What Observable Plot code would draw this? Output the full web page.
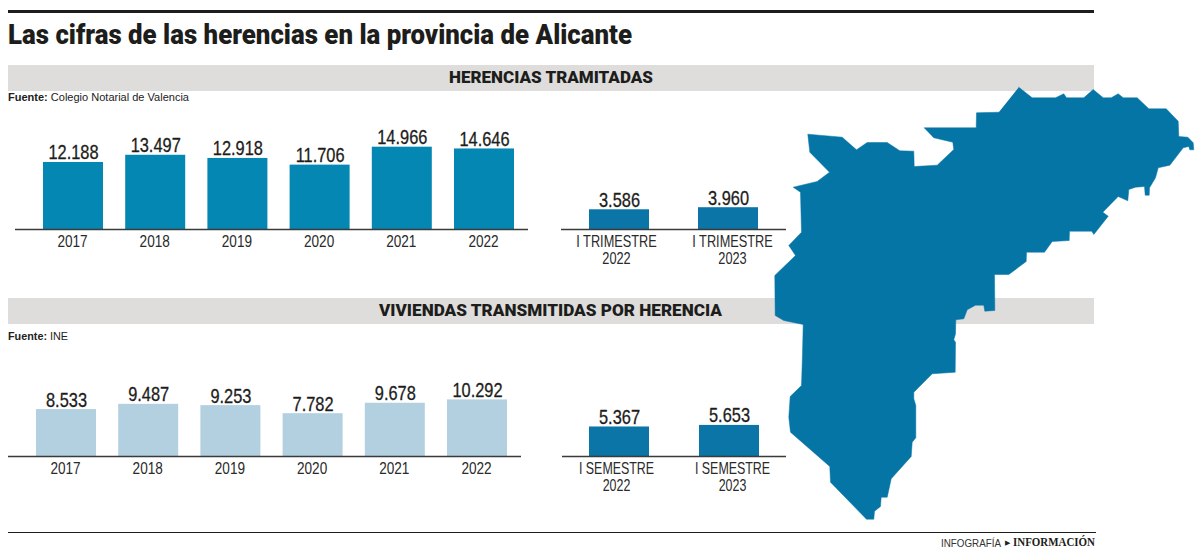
<!DOCTYPE html>
<html><head><meta charset="utf-8">
<script src="https://cdn.jsdelivr.net/npm/d3@7"></script>
<script src="https://cdn.jsdelivr.net/npm/@observablehq/plot@0.6"></script>
<style>
html,body{margin:0;padding:0;background:#fff}
#page{position:relative;width:1200px;height:559px;overflow:hidden;color:#1d1d1b;font-family:"Liberation Sans",sans-serif}
#page>*{position:absolute}
.rule{background:#1d1d1b}
.band{left:8px;width:1086px;height:26px;background:#dedddb}
.head{font:900 17px/26px "Roboto",sans-serif;white-space:nowrap;transform-origin:left center}
.src{left:8px;font:400 11.5px/12px "Liberation Sans",sans-serif;color:#222;white-space:nowrap;transform-origin:left center}
.src b{font-weight:700}
#title{left:8px;top:18px;font:900 28px/34px "Roboto",sans-serif;white-space:nowrap;transform-origin:left center}
.foot{white-space:nowrap;transform-origin:left center}
svg{overflow:visible;background:transparent!important}
</style></head><body>
<div id="page">
  <div class="rule" style="left:8px;top:10px;width:1086px;height:3px"></div>
  <div id="title" data-w="624">Las cifras de las herencias en la provincia de Alicante</div>
  <div class="band" style="top:65px"></div>
  <div class="band" style="top:298px"></div>
  <div id="mapHolder" style="left:0;top:0"></div>
  <div class="head" data-w="204" style="left:449px;top:64px">HERENCIAS TRAMITADAS</div>
  <div class="head" data-w="343" style="left:379px;top:297px">VIVIENDAS TRANSMITIDAS POR HERENCIA</div>
  <div class="src" data-w="181" style="top:91px"><b>Fuente:</b> Colegio Notarial de Valencia</div>
  <div class="src" data-w="60" style="top:330px"><b>Fuente:</b> INE</div>
  <div class="rule" style="left:8px;top:532px;width:1088px;height:1px"></div>
  <div class="foot" data-w="60" style="left:941px;top:536px;font:400 11.5px/14px 'Liberation Sans',sans-serif;color:#333">INFOGRAFÍA</div>
  <div class="foot" style="left:1005px;top:536px;font:400 7px/14px 'DejaVu Sans',sans-serif;color:#222">▶</div>
  <div class="foot" data-w="82" style="left:1013px;top:535px;font:700 13px/14px 'Liberation Serif',serif;color:#1d1d1b">INFORMACIÓN</div>
</div>
<script>
const years = ["2017","2018","2019","2020","2021","2022"];
const herencias = [12188,13497,12918,11706,14966,14646];
const viviendas = [8533,9487,9253,7782,9678,10292];
const trimestres = ["I TRIMESTRE 2022","I TRIMESTRE 2023"];
const herenciasTrim = [3586,3960];
const semestres = ["I SEMESTRE 2022","I SEMESTRE 2023"];
const viviendasSem = [5367,5653];
const provinceOutline = [
[1018.3,86.7],[1031.7,97.3],[1055,97.3],[1063.3,93.3],[1066,97.3],[1083.3,97.3],[1092.7,89],[1102.7,97.3],[1110.7,97.3],[1117.7,93.3],[1122.7,97.3],[1136.7,97.3],[1148.3,108.3],[1165.7,108.3],[1177.7,120.7],[1178.3,136],[1187.3,136.7],[1192.7,142.3],[1193.3,149.3],[1189.3,149.3],[1188.3,146],[1182.7,147.3],[1169.3,164.7],[1157.7,167.3],[1155,177.3],[1149,187.3],[1148.7,194.7],[1144.7,194.7],[1144,186],[1135,186.7],[1128.3,189],[1127.3,200.3],[1117.7,196],[1102.3,211.7],[1107.7,215.7],[1093.3,234],[1091.3,230.7],[1069,230.7],[1068.7,240],[1051.7,241],[1044,251.7],[1026,251.7],[1025.7,261],[1008.3,274],[994,274],
[994.3,310],[984.3,310.7],[983.3,304.7],[975,304.7],[966.7,309.3],[963.3,318.3],[955.3,319.3],[955,333.3],[953.3,339.3],[955,341.7],[954.7,371.7],[931.7,373.3],[913.3,391.7],[913.3,398.3],[915.3,405],[915.3,437.3],[911.7,441.7],[910.7,456],[890.7,478.3],[886.7,496.7],[880.7,496.7],[880,506],[874,510.7],[873.3,518.7],[866,518.7],[830,481.7],[829.3,466],[790,431.7],[788.3,416.7],[789.7,396],[801,385],[802,353.3],[802.7,324],[783.3,320],[774.7,315],
[774.3,275],[795,255],[788.3,245],[801,231.7],[800,191.7],[792.7,186.7],[816.7,181],[829,171.7],[809.3,151.7],[807.3,133.7],[841.7,136.7],[856,149.3],[866.7,142],[886.7,142],[899.3,150.3],[913.3,150.7],[913.7,166],[936.7,164.7],[953.3,149],[952.3,141.7],[933.3,137.3],[923.7,127.3],[975.7,127.3],[976,112.3],[998.3,111.7]
];

const page = document.getElementById("page");
const fmt = v => { const s = String(v); return s.length > 3 ? s.slice(0,-3) + "." + s.slice(-3) : s; };
const FONT = '"Liberation Sans",sans-serif';

function panel({cats, vals, fill, ruleFrom, ruleTo, firstBarStart, step, barWidth, baseline, tickDx, tickScale}) {
  const pad = 1 - barWidth / step;
  const left = ruleFrom, width = ruleTo - ruleFrom;
  const rangeStart = firstBarStart - pad * step - left;
  const rangeEnd = rangeStart + step * (cats.length + pad);
  const data = cats.map((c, i) => ({c, v: vals[i]}));
  const wrap = c => c.replace(/ (20\d\d)$/, "\n$1");
  const axisOpts = {anchor: "bottom", tickSize: 0, tickPadding: 5, label: null, fontSize: 17, fill: "#2a2a2a", tickFormat: wrap, lineHeight: 1};
  const chart = Plot.plot({
    width, height: 163, marginLeft: 0, marginRight: 0, marginTop: 30, marginBottom: 45,
    style: {fontFamily: FONT, background: "transparent"},
    x: {type: "band", domain: cats, range: [rangeStart, rangeEnd], padding: pad, align: 0.5, round: false, axis: null},
    y: {domain: [0, 16000], axis: null},
    marks: [
      Plot.barY(data, {x: "c", y: "v", fill}),
      Plot.ruleY([0], {stroke: "#3a3a3a", strokeWidth: 1.3}),
      Plot.text(data, {x: "c", y: "v", text: d => fmt(d.v), lineAnchor: "bottom", dy: -3, fontSize: 20, fill: "#1d1d1b", stroke: "#1d1d1b", strokeWidth: 0.3, className: "value"}),
      ...cats.map((c, i) => Plot.axisX([c], {...axisOpts, dx: tickDx[i % tickDx.length]}))
    ]
  });
  chart.querySelectorAll("text").forEach(t => {
    const isValue = t.closest(".value") != null;
    t.setAttribute("transform", (t.getAttribute("transform") || "") + ` scale(${isValue ? 0.82 : tickScale},1)`);
  });
  chart.style.position = "absolute";
  chart.style.left = left + "px";
  chart.style.top = (baseline - 118) + "px";
  page.appendChild(chart);
}

panel({cats: years, vals: herencias, fill: "#0487b3", ruleFrom: 15, ruleTo: 528, firstBarStart: 43, step: 82.2, barWidth: 60, baseline: 229, tickDx: [-1], tickScale: 0.8});
panel({cats: trimestres, vals: herenciasTrim, fill: "#0a75a6", ruleFrom: 561, ruleTo: 786, firstBarStart: 589, step: 109, barWidth: 60, baseline: 229, tickDx: [-3, 4], tickScale: 0.75});
panel({cats: years, vals: viviendas, fill: "#b2d0e0", ruleFrom: 8, ruleTo: 521, firstBarStart: 36, step: 82.2, barWidth: 60, baseline: 455.5, tickDx: [-1], tickScale: 0.8});
panel({cats: semestres, vals: viviendasSem, fill: "#0a75a6", ruleFrom: 562, ruleTo: 786, firstBarStart: 589, step: 110, barWidth: 60, baseline: 455.5, tickDx: [-3, 3], tickScale: 0.73});

const map = Plot.plot({
  width: 1200, height: 559, margin: 0,
  style: {background: "transparent"},
  x: {domain: [0, 1200], range: [0, 1200], axis: null},
  y: {domain: [0, 559], range: [0, 559], axis: null},
  marks: [Plot.line(provinceOutline, {x: d => d[0], y: d => d[1], fill: "#0575a6", stroke: "#0575a6", strokeWidth: 0.5, curve: "linear"})]
});
map.style.display = "block";
document.getElementById("mapHolder").appendChild(map);

// squeeze text to the reference's condensed widths
document.querySelectorAll("[data-w]").forEach(el => {
  const w = el.getBoundingClientRect().width;
  el.style.transform = `scaleX(${+el.dataset.w / w})`;
});
</script>
</body></html>
